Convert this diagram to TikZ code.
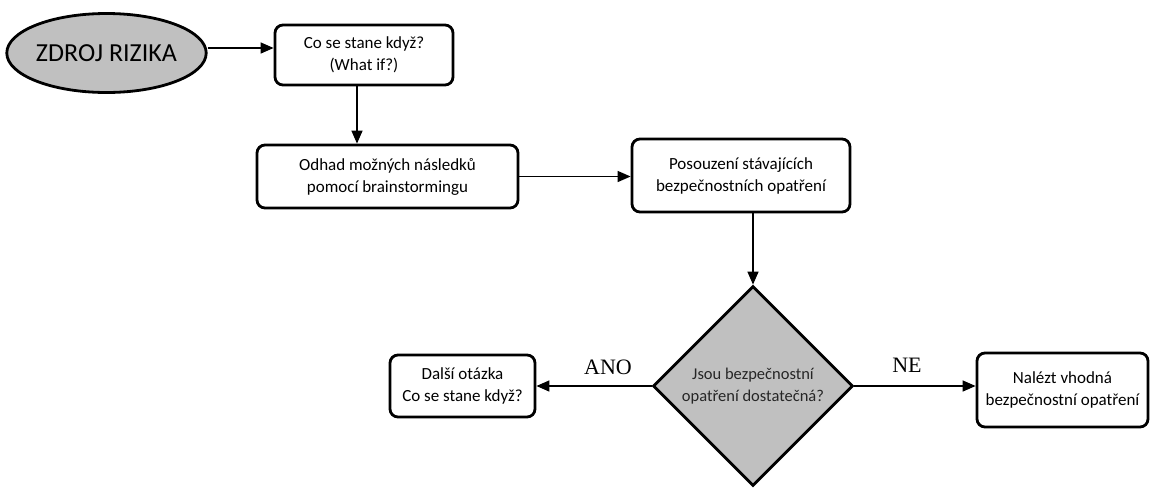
\documentclass[tikz,border=0pt]{standalone}
\usepackage{fontspec}
\setmainfont{Carlito}
\newfontfamily\labelserif{Liberation Serif}
\usetikzlibrary{arrows.meta,shapes.geometric}
\definecolor{shade}{HTML}{C0C0C0}
\tikzset{
  stepbox/.style={draw, line width=2.8pt, rounded corners=8pt, fill=white,
    align=center, inner sep=0pt, font=\fontsize{17}{22}\selectfont},
  flow/.style={line width=1.4pt, -{Triangle[length=13pt,width=11pt]}},
  branchlabel/.style={font=\labelserif\fontsize{22}{24}\selectfont}
}
\begin{document}
\begin{tikzpicture}[x=1pt,y=-1pt]
  \useasboundingbox (0,0) rectangle (1151,488);

  \node[draw, line width=2.8pt, ellipse, fill=shade, minimum width=173pt,
        minimum height=79pt, inner sep=0pt,
        font=\fontsize{26}{30}\selectfont] (src) at (106.5,53) {ZDROJ RIZIKA};

  \node[stepbox, minimum width=178pt, minimum height=60pt] (whatif) at (364,55)
    {Co se stane když?\\(What if?)};
  \node[stepbox, minimum width=261pt, minimum height=63pt] (guess) at (387.5,176.5)
    {Odhad možných následků\\pomocí brainstormingu};
  \node[stepbox, minimum width=218pt, minimum height=73pt] (assess) at (741,175.5)
    {Posouzení stávajících\\bezpečnostních opatření};
  \node[draw, line width=2.8pt, diamond, aspect=1, fill=shade, minimum width=200pt,
        minimum height=200pt, inner sep=0pt, align=center,
        text=black!85, font=\fontsize{16.5}{22}\selectfont] (check) at (753,386)
    {Jsou bezpečnostní\\opatření dostatečná?};
  \node[stepbox, minimum width=145pt, minimum height=62pt] (next) at (462.5,386)
    {Další otázka\\Co se stane když?};
  \node[stepbox, minimum width=171pt, minimum height=74pt] (find) at (1062.5,390)
    {Nalézt vhodná\\bezpečnostní opatření};

  \draw[flow] ([yshift=5pt]src.east) -- ([yshift=5pt]src.east -| whatif.west);
  \draw[flow] ([xshift=-7pt]whatif.south) -- ([xshift=-7pt]whatif.south |- guess.north);
  \draw[flow] (guess.east) -- (guess.east -| assess.west);
  \draw[flow] (assess.south -| check.north) -- (check.north);
  \draw[flow] (check.west) -- (check.west -| next.east);
  \draw[flow] (check.east) -- (check.east -| find.west);

  \node[branchlabel] (yes) at (608,367) {ANO};
  \node[branchlabel] (no) at (907,365) {NE};
\end{tikzpicture}
\end{document}
